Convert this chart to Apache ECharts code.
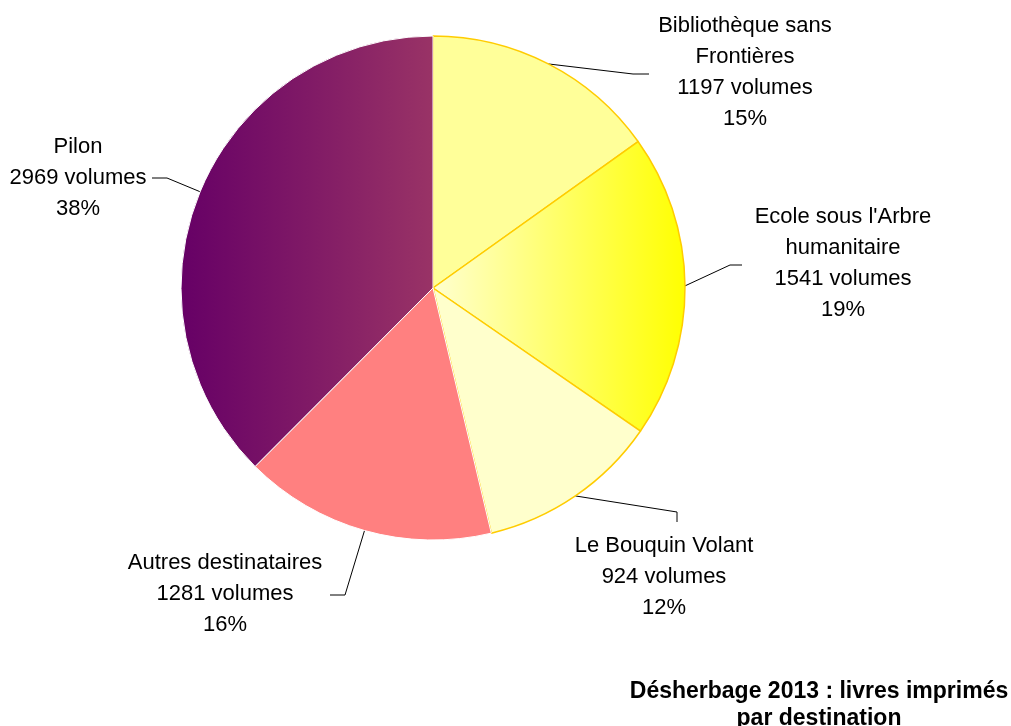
<!DOCTYPE html>
<html>
<head>
<meta charset="utf-8">
<script src="https://cdn.jsdelivr.net/npm/echarts@6/dist/echarts.min.js"></script>
<style>
html,body{margin:0;padding:0;background:#fff;}
#chart{width:1011px;height:726px;}
</style>
</head>
<body>
<div id="chart"></div>
<script>
// ---- data ----
const categories = ['Bibliothèque sans\nFrontières', "Ecole sous l'Arbre\nhumanitaire", 'Le Bouquin Volant', 'Autres destinataires', 'Pilon'];
const volumes = [1197, 1541, 924, 1281, 2969];
const titleLines = ['Désherbage 2013 : livres imprimés', 'par destination'];

// ---- styles (not data) ----
const FONT = "'Liberation Sans', Arial, sans-serif";
const styles = [
  { color: '#FFFF99', borderColor: '#FFCC00', borderWidth: 1.5 },
  { color: { type: 'linear', x: 0, y: 0, x2: 1, y2: 0, colorStops: [{ offset: 0, color: '#FFFFD0' }, { offset: 1, color: '#FFFF00' }] }, borderColor: '#FFCC00', borderWidth: 1.5 },
  { color: '#FFFFCC', borderColor: '#FFCC00', borderWidth: 1.5 },
  { color: '#FF8080', borderColor: '#FFFFFF', borderWidth: 1 },
  { color: { type: 'linear', x: 0, y: 0, x2: 1, y2: 0, colorStops: [{ offset: 0, color: '#660066' }, { offset: 1, color: '#993366' }] }, borderColor: '#FFFFFF', borderWidth: 1 }
];
// label placement: label centre and the two elbow points of the leader line
const labelLayoutCfg = [
  { x: 745, y: 72, elbow: [[633, 74], [649, 74]] },
  { x: 843, y: 263, elbow: [[730, 265], [742, 265]] },
  { x: 664, y: 577, elbow: [[677, 512], [677, 522]] },
  { x: 225, y: 594, elbow: [[345, 595], [330, 595]] },
  { x: 78, y: 178, elbow: [[167, 178], [152, 178]] }
];

const chart = echarts.init(document.getElementById('chart'));
chart.setOption({
  animation: false,
  backgroundColor: '#ffffff',
  title: {
    text: titleLines.join('\n'),
    left: 814,
    top: 673,
    textAlign: 'center',
    textStyle: { fontFamily: FONT, fontSize: 23, fontWeight: 'bold', color: '#000', lineHeight: 27 }
  },
  series: [{
    type: 'pie',
    center: [433, 288],
    radius: 252,
    startAngle: 90,
    clockwise: true,
    avoidLabelOverlap: false,
    emphasis: { disabled: true },
    label: {
      show: true,
      position: 'outside',
      fontFamily: FONT,
      fontSize: 22,
      lineHeight: 31,
      color: '#000',
      align: 'center',
      formatter: function (p) {
        return p.name + '\n' + p.value + ' volumes\n' + Math.round(p.percent) + '%';
      }
    },
    labelLine: { show: true, length: 20, length2: 10, smooth: false, lineStyle: { color: '#000', width: 1 } },
    labelLayout: function (params) {
      const cfg = labelLayoutCfg[params.dataIndex];
      const pts = params.labelLinePoints;
      const p0 = pts && pts[0] ? pts[0] : cfg.elbow[0];
      return {
        x: cfg.x,
        y: cfg.y,
        align: 'center',
        verticalAlign: 'middle',
        labelLinePoints: [p0, cfg.elbow[0], cfg.elbow[1]]
      };
    },
    data: categories.map(function (name, i) {
      return { name: name, value: volumes[i], itemStyle: styles[i] };
    })
  }]
});
</script>
</body>
</html>
